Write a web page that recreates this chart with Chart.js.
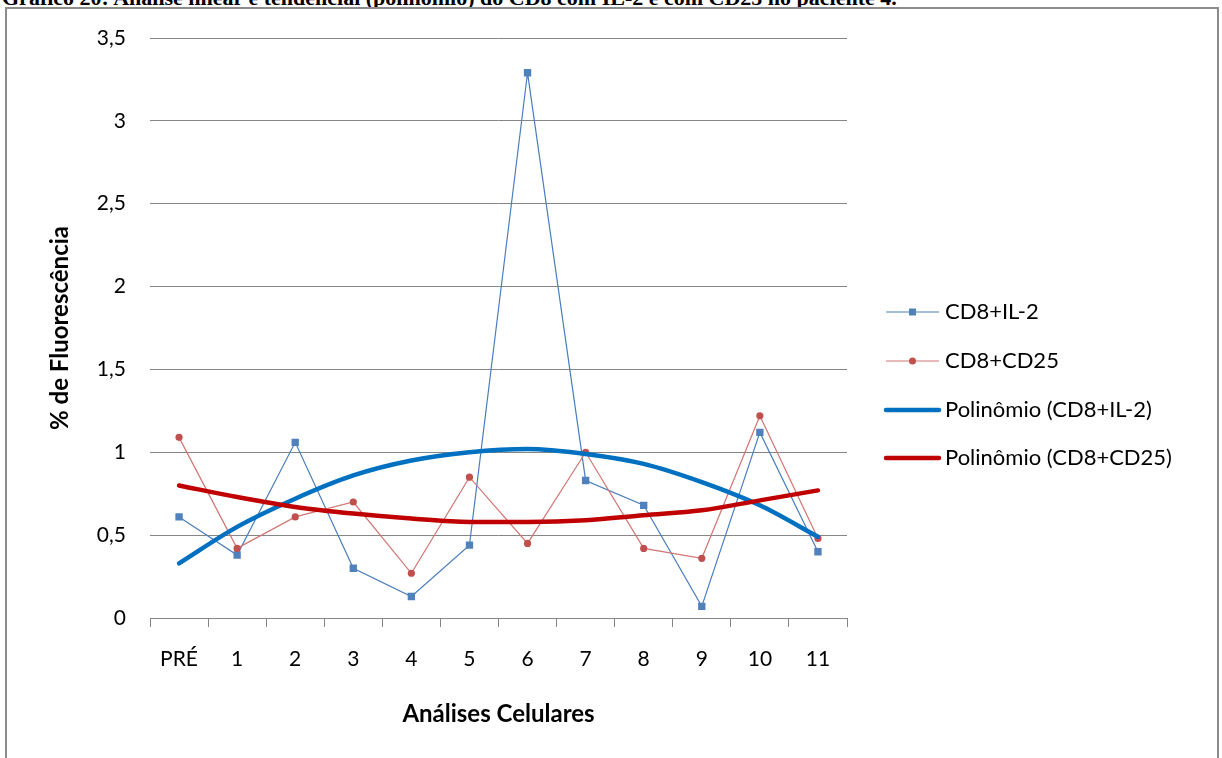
<!DOCTYPE html>
<html>
<head>
<meta charset="utf-8">
<script src="https://cdn.jsdelivr.net/npm/chart.js@4.4.1/dist/chart.umd.min.js"></script>
<style>
  html, body { margin: 0; padding: 0; background: #fff; }
  body { width: 1222px; height: 758px; overflow: hidden; position: relative; }
  #caption {
    position: absolute; left: 2px; top: -13px;
    font: bold 22px "Liberation Serif", serif; line-height: 22px;
    white-space: nowrap; color: #000;
  }
  #frame {
    position: absolute; left: 5px; top: 7px; width: 1214px; height: 800px;
    border: 2px solid #8c8c8c; box-sizing: border-box; background: #fff;
  }
  #wrap { position: absolute; left: 0; top: 0; width: 1222px; height: 758px; }
</style>
</head>
<body>
<div id="caption">Gráfico 20: Análise linear e tendencial (polinômio) do CD8 com IL-2 e com CD25 no paciente 4.</div>
<div id="frame"></div>
<div id="wrap"><canvas id="chart" width="1222" height="758"></canvas></div>
<script>
// Cell analyses (pre-treatment + 11 follow-ups)
const categories = ['PRÉ', '1', '2', '3', '4', '5', '6', '7', '8', '9', '10', '11'];

// % fluorescence per analysis
const cd8Il2 = [0.61, 0.38, 1.06, 0.30, 0.13, 0.44, 3.29, 0.83, 0.68, 0.07, 1.12, 0.40];
const cd8Cd25 = [1.09, 0.42, 0.61, 0.70, 0.27, 0.85, 0.45, 1.00, 0.42, 0.36, 1.22, 0.48];

// 2nd-order polynomial trend values at each analysis
const trendIl2 = [0.33, 0.55, 0.72, 0.86, 0.95, 1.00, 1.02, 0.99, 0.93, 0.82, 0.68, 0.49];
const trendCd25 = [0.80, 0.73, 0.67, 0.63, 0.60, 0.58, 0.58, 0.59, 0.62, 0.65, 0.71, 0.77];

// Y axis ticks
const yTicks = [0, 0.5, 1, 1.5, 2, 2.5, 3, 3.5];

const legendItems = [
  { text: 'CD8+IL-2', color: '#4A7EBB', width: 1.2, marker: 'rect', markerColor: '#4F81BD' },
  { text: 'CD8+CD25', color: '#D07572', width: 1.2, marker: 'circle', markerColor: '#C0504D' },
  { text: 'Polinômio (CD8+IL-2)', color: '#0070C0', width: 4.5 },
  { text: 'Polinômio (CD8+CD25)', color: '#C00000', width: 4.5 }
];

const FONT = 'Lato';

const sideLegend = {
  id: 'sideLegend',
  afterDraw(chart) {
    const ctx = chart.ctx;
    const x0 = 886, x1 = 939, tx = 945;
    const ys = [312, 361, 410, 458];
    ctx.save();
    legendItems.forEach((it, i) => {
      const y = ys[i];
      ctx.strokeStyle = it.color;
      ctx.lineWidth = it.width;
      ctx.lineCap = it.width > 2 ? 'round' : 'butt';
      ctx.beginPath(); ctx.moveTo(x0, y); ctx.lineTo(x1, y); ctx.stroke();
      if (it.marker === 'rect') {
        ctx.fillStyle = it.markerColor;
        ctx.fillRect((x0 + x1) / 2 - 3.5, y - 3.5, 7, 7);
      } else if (it.marker === 'circle') {
        ctx.fillStyle = it.markerColor;
        ctx.beginPath(); ctx.arc((x0 + x1) / 2, y, 3.5, 0, Math.PI * 2); ctx.fill();
      }
      ctx.fillStyle = '#000';
      ctx.font = '22px ' + FONT;
      ctx.textBaseline = 'middle';
      ctx.textAlign = 'left';
      ctx.fillText(it.text, tx, y);
    });
    ctx.restore();
  }
};

new Chart(document.getElementById('chart'), {
  type: 'line',
  data: {
    labels: categories,
    datasets: [
      {
        label: 'CD8+IL-2', data: cd8Il2, order: 3,
        borderColor: '#4A7EBB', borderWidth: 1.2,
        pointStyle: 'rect', pointRadius: 5.2, pointBackgroundColor: '#4F81BD',
        pointBorderColor: '#4F81BD', pointBorderWidth: 0, tension: 0
      },
      {
        label: 'CD8+CD25', data: cd8Cd25, order: 2,
        borderColor: '#D07572', borderWidth: 1.2,
        pointStyle: 'circle', pointRadius: 3.6, pointBackgroundColor: '#C0504D',
        pointBorderColor: '#C0504D', pointBorderWidth: 0, tension: 0
      },
      {
        label: 'Polinômio (CD8+IL-2)', data: trendIl2, order: 1,
        borderColor: '#0070C0', borderWidth: 4.5, pointRadius: 0,
        cubicInterpolationMode: 'monotone', borderCapStyle: 'round'
      },
      {
        label: 'Polinômio (CD8+CD25)', data: trendCd25, order: 0,
        borderColor: '#C00000', borderWidth: 4.5, pointRadius: 0,
        cubicInterpolationMode: 'monotone', borderCapStyle: 'round'
      }
    ]
  },
  options: {
    responsive: false,
    animation: false,
    events: [],
    layout: { padding: { left: 0, top: 38, right: 375, bottom: 0 } },
    plugins: { legend: { display: false }, tooltip: { enabled: false }, title: { display: false } },
    scales: {
      x: {
        offset: true,
        grid: { offset: true, drawOnChartArea: false, drawTicks: true, tickLength: 9, color: '#868686', lineWidth: 1 },
        border: { display: true, color: '#868686', width: 1 },
        ticks: { color: '#000', font: { family: FONT, size: 21 }, padding: 20, maxRotation: 0, autoSkip: false },
        title: { display: true, text: 'Análises Celulares', color: '#000', font: { family: FONT, size: 24, weight: 'bold' }, padding: { top: 0, bottom: 29 } },
        afterFit(scale) { scale.height = 140; }
      },
      y: {
        min: 0, max: 3.5,
        afterBuildTicks(scale) { scale.ticks = yTicks.map(v => ({ value: v })); },
        grid: { drawTicks: false, color: '#868686', lineWidth: 1 },
        border: { display: false },
        ticks: {
          color: '#000', font: { family: FONT, size: 21 }, padding: 24,
          callback: v => String(v).replace('.', ',')
        },
        title: { display: true, text: '% de Fluorescência', color: '#000', font: { family: FONT, size: 24, weight: 'bold' }, padding: { top: 46, bottom: 0 } },
        afterFit(scale) { scale.width = 150; }
      }
    }
  },
  plugins: [sideLegend]
});
</script>
</body>
</html>
